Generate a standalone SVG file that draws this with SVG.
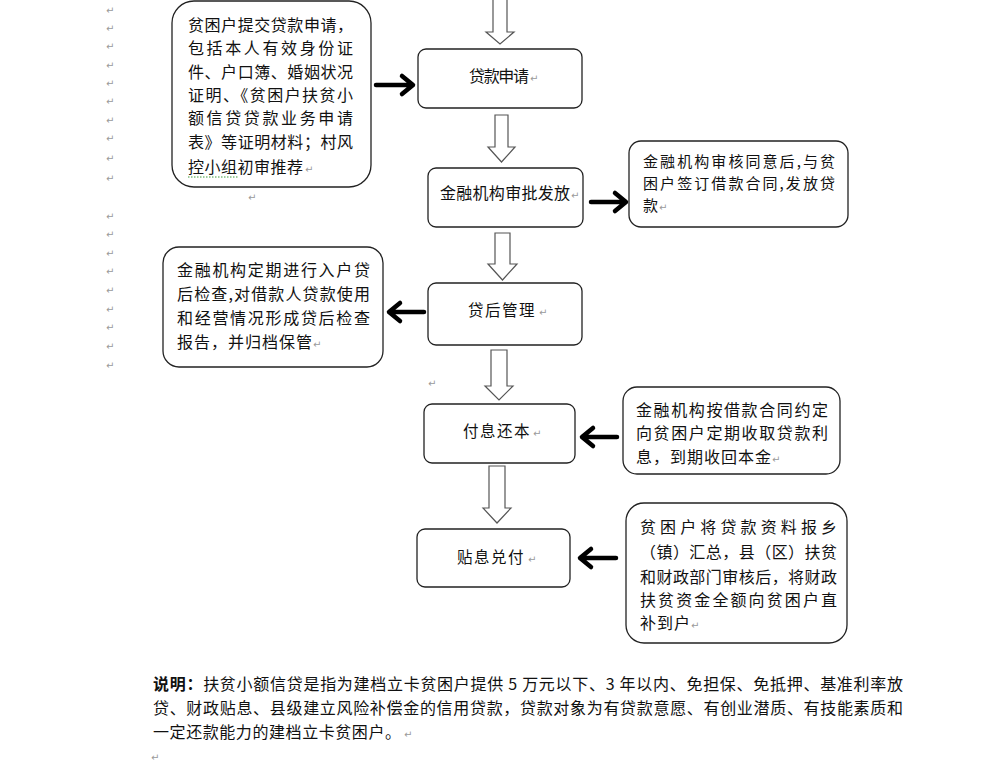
<svg xmlns="http://www.w3.org/2000/svg" width="999" height="770" viewBox="0 0 999 770">
<style>
.box{fill:#fff;stroke:#222;stroke-width:1.3}
.hollow{fill:#fff;stroke:#555;stroke-width:1.2}
.thick{fill:none;stroke:#000;stroke-width:4.5;stroke-linecap:round;stroke-linejoin:round}
.t{font-family:"Noto Sans CJK SC","Noto Sans",sans-serif;font-size:16px;fill:#111}
.s{font-family:"Noto Sans CJK SC","Noto Sans",sans-serif;font-size:15px;fill:#111}
.c{font-family:"Noto Sans CJK SC","Noto Sans",sans-serif;font-size:15.5px;fill:#111;letter-spacing:1.5px}
.pm{font-family:"DejaVu Sans",sans-serif;font-size:10px;fill:#9a9a9a}
.b{font-weight:bold}
</style>
<rect width="999" height="770" fill="#fff"/>

<g id="marks">
<text class="pm" x="106" y="14">↵</text>
<text class="pm" x="106" y="32">↵</text>
<text class="pm" x="106" y="50">↵</text>
<text class="pm" x="106" y="69">↵</text>
<text class="pm" x="106" y="87">↵</text>
<text class="pm" x="106" y="105">↵</text>
<text class="pm" x="106" y="124">↵</text>
<text class="pm" x="106" y="142">↵</text>
<text class="pm" x="106" y="162">↵</text>
<text class="pm" x="106" y="182">↵</text>
<text class="pm" x="106" y="220">↵</text>
<text class="pm" x="106" y="238">↵</text>
<text class="pm" x="106" y="257">↵</text>
<text class="pm" x="106" y="275">↵</text>
<text class="pm" x="106" y="294">↵</text>
<text class="pm" x="106" y="313">↵</text>
<text class="pm" x="106" y="331">↵</text>
<text class="pm" x="106" y="350">↵</text>
<text class="pm" x="106" y="369">↵</text>
<text class="pm" x="248" y="201">↵</text>
<text class="pm" x="428" y="387">↵</text>
<text class="pm" x="151" y="761">↵</text>
</g>

<g id="connectors">
<polygon class="hollow" points="493,-2 507,-2 507,32 514,32 500,44 486,32 493,32"/>
<polygon class="hollow" points="495,115 508,115 508,147 515,147 501.5,162 488,147 495,147"/>
<polygon class="hollow" points="495,233 510,233 510,264 517,264 502.5,280 488,264 495,264"/>
<polygon class="hollow" points="491,350 507,350 507,386 513,386 499,400 485,386 491,386"/>
<polygon class="hollow" points="489,466 505,466 505,508 511,508 497,523 483,508 489,508"/>
<path class="thick" d="M376,85 H412 M402,76 L413,85 L402,94"/>
<path class="thick" d="M591,202 H625 M615,193 L626,202 L615,211"/>
<path class="thick" d="M424,312 H390 M400,303 L389,312 L400,321"/>
<path class="thick" d="M617,437 H583 M593,428 L582,437 L593,446"/>
<path class="thick" d="M616,558 H581 M591,549 L580,558 L591,567"/>
</g>

<g id="n1">
<rect class="box" x="172" y="1" width="199" height="186" rx="22"/>
<text class="t" x="188" y="31" textLength="165" lengthAdjust="spacing">贫困户提交贷款申请，</text>
<text class="t" x="188" y="54" textLength="165" lengthAdjust="spacing">包括本人有效身份证</text>
<text class="t" x="188" y="78" textLength="165" lengthAdjust="spacing">件、户口簿、婚姻状况</text>
<text class="t" x="188" y="101" textLength="165" lengthAdjust="spacing">证明、《贫困户扶贫小</text>
<text class="t" x="188" y="124" textLength="165" lengthAdjust="spacing">额信贷贷款业务申请</text>
<text class="t" x="188" y="148" textLength="165" lengthAdjust="spacing">表》等证明材料；村风</text>
<text class="t" x="188" y="173" textLength="115" lengthAdjust="spacing">控小组初审推荐</text>
<text class="pm" x="305" y="173">↵</text>
<line x1="188" y1="177" x2="238" y2="177" stroke="#3a9a3a" stroke-width="1" stroke-dasharray="1.5,1.5"/>
</g>

<g id="n2">
<rect class="box" x="418" y="49" width="164" height="59" rx="8"/>
<text class="t" x="469" y="82" font-size="15" textLength="60" lengthAdjust="spacing">贷款申请</text>
<text class="pm" x="530" y="82">↵</text>
</g>

<g id="n3">
<rect class="box" x="428" y="168" width="155" height="59" rx="8"/>
<text class="t" x="440" y="199" textLength="130" lengthAdjust="spacing">金融机构审批发放</text>
<text class="pm" x="571" y="199">↵</text>
</g>

<g id="n4">
<rect class="box" x="629" y="141" width="219" height="86" rx="12"/>
<text class="s" x="643" y="167" textLength="192" lengthAdjust="spacing">金融机构审核同意后,与贫</text>
<text class="s" x="643" y="189" textLength="192" lengthAdjust="spacing">困户签订借款合同,发放贷</text>
<text class="s" x="643" y="211">款</text>
<text class="pm" x="659" y="211">↵</text>
</g>

<g id="n5">
<rect class="box" x="428" y="283" width="154" height="62" rx="8"/>
<text class="c" x="468" y="316">贷后管理</text>
<text class="pm" x="539" y="316">↵</text>
</g>

<g id="n6">
<rect class="box" x="163" y="247" width="220" height="120" rx="16"/>
<text class="t" x="177" y="276" textLength="193" lengthAdjust="spacing">金融机构定期进行入户贷</text>
<text class="t" x="177" y="300" textLength="193" lengthAdjust="spacing">后检查,对借款人贷款使用</text>
<text class="t" x="177" y="324" textLength="193" lengthAdjust="spacing">和经营情况形成贷后检查</text>
<text class="t" x="177" y="348" textLength="135" lengthAdjust="spacing">报告，并归档保管</text>
<text class="pm" x="313" y="348">↵</text>
</g>

<g id="n7">
<rect class="box" x="424" y="404" width="151" height="59" rx="8"/>
<text class="c" x="463" y="437">付息还本</text>
<text class="pm" x="533" y="437">↵</text>
</g>

<g id="n8">
<rect class="box" x="623" y="387" width="217" height="87" rx="14"/>
<text class="t" x="636" y="416" textLength="192" lengthAdjust="spacing">金融机构按借款合同约定</text>
<text class="t" x="636" y="439" textLength="192" lengthAdjust="spacing">向贫困户定期收取贷款利</text>
<text class="t" x="636" y="463" textLength="135" lengthAdjust="spacing">息，到期收回本金</text>
<text class="pm" x="772" y="463">↵</text>
</g>

<g id="n9">
<rect class="box" x="417" y="529" width="153" height="58" rx="8"/>
<text class="c" x="457" y="563">贴息兑付</text>
<text class="pm" x="528" y="563">↵</text>
</g>

<g id="n10">
<rect class="box" x="626" y="503" width="221" height="140" rx="18"/>
<text class="t" x="640" y="533" textLength="197" lengthAdjust="spacing">贫困户将贷款资料报乡</text>
<text class="t" x="640" y="558" textLength="197" lengthAdjust="spacing">（镇）汇总，县（区）扶贫</text>
<text class="t" x="640" y="583" textLength="197" lengthAdjust="spacing">和财政部门审核后，将财政</text>
<text class="t" x="640" y="606" textLength="197" lengthAdjust="spacing">扶贫资金全额向贫困户直</text>
<text class="t" x="640" y="629" textLength="50" lengthAdjust="spacing">补到户</text>
<text class="pm" x="691" y="629">↵</text>
</g>

<g id="note">
<text class="t" x="153" y="690" textLength="750" lengthAdjust="spacing"><tspan class="b">说明：</tspan>扶贫小额信贷是指为建档立卡贫困户提供 5 万元以下、3 年以内、免担保、免抵押、基准利率放</text>
<text class="t" x="153" y="714" textLength="750" lengthAdjust="spacing">贷、财政贴息、县级建立风险补偿金的信用贷款，贷款对象为有贷款意愿、有创业潜质、有技能素质和</text>
<text class="t" x="153" y="738" textLength="248" lengthAdjust="spacing">一定还款能力的建档立卡贫困户。</text>
<text class="pm" x="404" y="738">↵</text>
</g>
</svg>
